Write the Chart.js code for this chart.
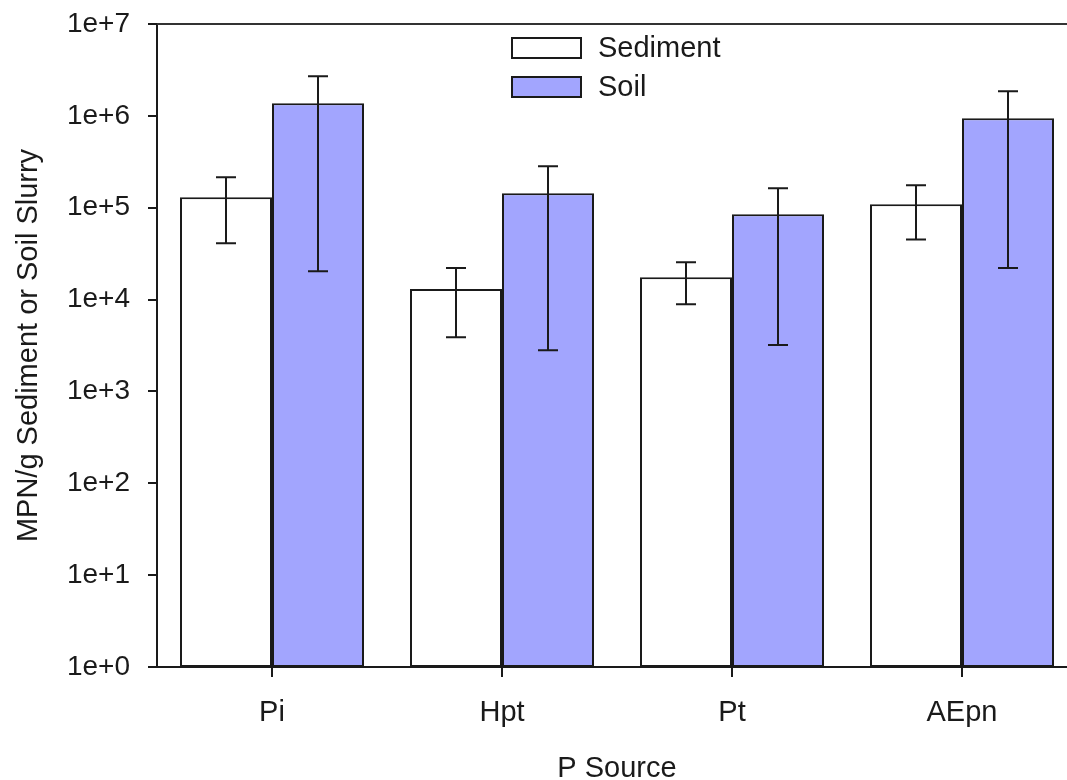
<!DOCTYPE html>
<html>
<head>
<meta charset="utf-8">
<script src="https://cdn.jsdelivr.net/npm/chart.js@4/dist/chart.umd.min.js"></script>
<style>
  html, body { margin: 0; padding: 0; background: #fff; overflow: hidden; }
  #wrap { width: 1067px; height: 780px; overflow: hidden; }
  #wrap div { width: 1080px; height: 780px; }
</style>
</head>
<body>
<div id="wrap"><div><canvas id="chart"></canvas></div></div>
<script>
// data
const categories = ['Pi', 'Hpt', 'Pt', 'AEpn'];
const sediment = [1.3e5, 1.3e4, 1.75e4, 1.09e5];
const sedimentHigh = [2.15e5, 2.2e4, 2.55e4, 1.76e5];
const sedimentLow = [4.1e4, 3.9e3, 8.9e3, 4.5e4];
const soil = [1.37e6, 1.44e5, 8.5e4, 9.4e5];
const soilHigh = [2.7e6, 2.83e5, 1.63e5, 1.85e6];
const soilLow = [2.04e4, 2.8e3, 3.2e3, 2.2e4];
const yTicks = [1, 10, 100, 1e3, 1e4, 1e5, 1e6, 1e7];
const yTickLabels = ['1e+0', '1e+1', '1e+2', '1e+3', '1e+4', '1e+5', '1e+6', '1e+7'];

const FONT = "'Liberation Sans', Arial, sans-serif";
const INK = '#1a1a1a';

// error bars + top frame line + legend box
const extras = {
  id: 'extras',
  afterDatasetsDraw(chart) {
    const ctx = chart.ctx;
    const y = chart.scales.y;
    const area = chart.chartArea;
    ctx.save();
    ctx.strokeStyle = INK;
    ctx.lineWidth = 2;
    chart.data.datasets.forEach((ds, i) => {
      const meta = chart.getDatasetMeta(i);
      meta.data.forEach((bar, j) => {
        const top = y.getPixelForValue(ds.errHigh[j]);
        const bot = y.getPixelForValue(ds.errLow[j]);
        ctx.beginPath();
        ctx.moveTo(bar.x, top); ctx.lineTo(bar.x, bot);
        ctx.moveTo(bar.x - 10, top); ctx.lineTo(bar.x + 10, top);
        ctx.moveTo(bar.x - 10, bot); ctx.lineTo(bar.x + 10, bot);
        ctx.stroke();
      });
    });
    // top frame
    ctx.strokeStyle = '#333';
    ctx.beginPath();
    ctx.moveTo(area.left, area.top); ctx.lineTo(area.right + 10, area.top);
    ctx.stroke();
    // legend
    ctx.font = '29px ' + FONT;
    ctx.textBaseline = 'middle';
    chart.data.datasets.forEach((ds, i) => {
      const by = 38 + i * 39;
      ctx.fillStyle = ds.backgroundColor;
      ctx.fillRect(512, by, 69, 20);
      ctx.strokeStyle = INK;
      ctx.lineWidth = 2;
      ctx.strokeRect(512, by, 69, 20);
      ctx.fillStyle = INK;
      ctx.fillText(ds.label, 598, by + 11);
    });
    ctx.restore();
  }
};

new Chart(document.getElementById('chart'), {
  type: 'bar',
  data: {
    labels: categories,
    datasets: [
      {
        label: 'Sediment',
        data: sediment,
        errHigh: sedimentHigh,
        errLow: sedimentLow,
        backgroundColor: '#ffffff',
        borderColor: INK,
        borderWidth: 2,
        borderSkipped: false
      },
      {
        label: 'Soil',
        data: soil,
        errHigh: soilHigh,
        errLow: soilLow,
        backgroundColor: '#a2a5fe',
        borderColor: INK,
        borderWidth: 2,
        borderSkipped: false
      }
    ]
  },
  options: {
    responsive: true,
    maintainAspectRatio: false,
    animation: false,
    events: [],
    layout: { autoPadding: false, padding: { top: 24, right: 3, left: 0, bottom: 0 } },
    plugins: {
      legend: { display: false },
      tooltip: { enabled: false }
    },
    datasets: {
      bar: { categoryPercentage: 0.8, barPercentage: 1.0 }
    },
    scales: {
      x: {
        offset: true,
        grid: { offset: false, drawOnChartArea: false, drawTicks: true, tickLength: 10, color: INK, lineWidth: 2 },
        border: { color: INK, width: 2 },
        ticks: { color: INK, padding: 19, font: { family: FONT, size: 29 } },
        title: { display: true, text: 'P Source', color: INK, padding: { top: 0, bottom: -6 }, font: { family: FONT, size: 29 } },
        afterFit(scale) { scale.height = 113; scale.paddingLeft = 0; scale.paddingRight = 0; }
      },
      y: {
        type: 'logarithmic',
        min: 1,
        max: 1e7,
        afterBuildTicks(scale) { scale.ticks = yTicks.map(v => ({ value: v })); },
        grid: { drawOnChartArea: false, drawTicks: true, tickLength: 9, color: INK, lineWidth: 2 },
        border: { color: INK, width: 2 },
        ticks: {
          color: INK,
          padding: 18,
          font: { family: FONT, size: 28 },
          callback: (v, i) => yTickLabels[i]
        },
        title: { display: true, text: 'MPN/g Sediment or Soil Slurry', color: INK, padding: { top: 12, bottom: 0 }, font: { family: FONT, size: 29 } },
        afterFit(scale) { scale.width = 157; scale.paddingTop = 0; scale.paddingBottom = 0; }
      }
    }
  },
  plugins: [extras]
});
</script>
</body>
</html>
